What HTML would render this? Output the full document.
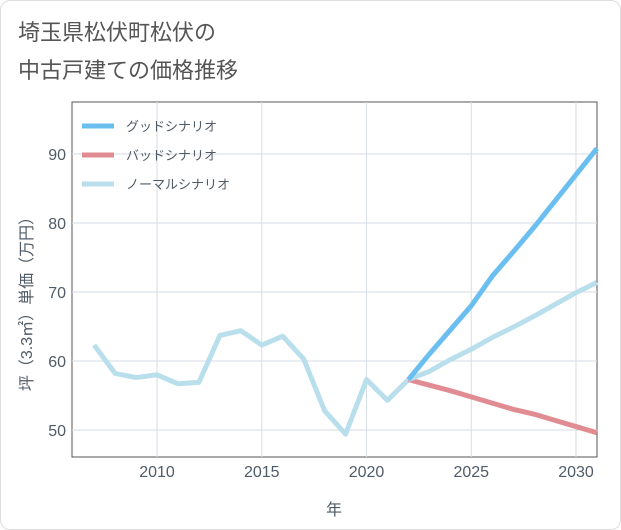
<!DOCTYPE html>
<html><head><meta charset="utf-8"><style>
body{margin:0;background:#fff;font-family:"Liberation Sans","Noto Sans CJK JP",sans-serif}
#frame{position:absolute;left:0;top:0;width:619px;height:528px;border:1px solid #ddd;border-radius:10px;background:#fff}
</style></head><body>
<div id="frame"></div>
<svg id="chart" width="621" height="530" style="position:absolute;left:0;top:0">
<text x="18" y="40" font-size="22" fill="#555">埼玉県松伏町松伏の</text>
<text x="18" y="78" font-size="22" fill="#555">中古戸建ての価格推移</text>
</svg>
<script>
const histYears=[2007,2008,2009,2010,2011,2012,2013,2014,2015,2016,2017,2018,2019,2020,2021,2022];
const histValues=[62.3,58.2,57.6,58.0,56.7,56.9,63.7,64.4,62.3,63.6,60.3,52.8,49.4,57.3,54.3,57.3];
const fcYears=[2022,2023,2024,2025,2026,2027,2028,2029,2030,2031];
const goodValues=[57.3,61.0,64.5,68.0,72.3,75.8,79.4,83.2,87.0,90.8];
const badValues=[57.3,56.5,55.7,54.8,53.9,53.0,52.3,51.4,50.5,49.6];
const normalValues=[57.3,58.5,60.2,61.7,63.4,64.9,66.5,68.2,69.9,71.4];
const xTicks=[2010,2015,2020,2025,2030];
const yTicks=[50,60,70,80,90];
const legendLabels=["グッドシナリオ","バッドシナリオ","ノーマルシナリオ"];
const L=72,R=597,T=102,B=457;
const X=y=>157+(y-2010)*(576-157)/20;
const Y=v=>430-(v-50)*(430-154)/40;
const svg=document.getElementById('chart');const NS='http://www.w3.org/2000/svg';
function mk(t,a,p){const e=document.createElementNS(NS,t);for(const k in a)e.setAttribute(k,a[k]);(p||svg).appendChild(e);return e;}
const bg=mk('rect',{x:L,y:T,width:R-L,height:B-T,fill:'#fff',stroke:'#555','stroke-width':1});


xTicks.forEach(t=>{const l=mk('line',{x1:X(t),x2:X(t),y1:T,y2:B,stroke:'#d5dde5'});


const tx=mk('text',{x:X(t),y:B+20,'text-anchor':'middle','font-size':16,fill:'#4f5b66'});tx.textContent=t;

});
yTicks.forEach(t=>{const l=mk('line',{x1:L,x2:R,y1:Y(t),y2:Y(t),stroke:'#d5dde5'});


const tx=mk('text',{x:L-6,y:Y(t)+6,'text-anchor':'end','font-size':16,fill:'#4f5b66'});tx.textContent=t;

});
const xt=mk('text',{x:334,y:515,'text-anchor':'middle','font-size':16,fill:'#4f5b66'});xt.textContent='年';


const yt=mk('text',{x:0,y:0,'text-anchor':'middle','font-size':16,fill:'#4f5b66',transform:'translate(32,300) rotate(-90)'});yt.textContent='坪（3.3㎡）単価（万円）';


function line(xs,vs,c,n){const p=mk('polyline',{points:xs.map((x,i)=>X(x)+','+Y(vs[i])).join(' '),fill:'none',stroke:c,'stroke-width':5,'stroke-linejoin':'round'});

}
line(histYears,histValues,'#badfec','historical-line');
line(fcYears,badValues,'#e08c92','bad-scenario-line');
line(fcYears,normalValues,'#badfec','normal-scenario-line');
line(fcYears,goodValues,'#6bbff0','good-scenario-line');
const lc=['#6bbff0','#e08c92','#badfec'];
legendLabels.forEach((s,i)=>{const y=126+i*29;const g=mk('g',{});


mk('line',{x1:82,x2:114,y1:y,y2:y,stroke:lc[i],'stroke-width':5},g);
const t=mk('text',{x:126,y:y+5,'font-size':13,fill:'#4f5b66'},g);t.textContent=s;});
</script>
</body></html>
